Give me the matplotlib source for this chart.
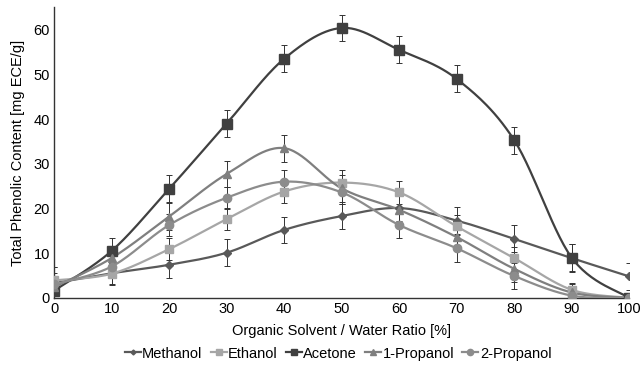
import numpy as np
import matplotlib
matplotlib.use('Agg')
import matplotlib.pyplot as plt
from matplotlib.lines import Line2D

plt.rcParams.update({'font.size': 10.5, 'font.family': 'Liberation Sans'})

ratio = [0, 10, 20, 30, 40, 50, 60, 70, 80, 90, 100]

methanol = [3.3, 5.5, 7.4, 10.1, 15.2, 18.3, 20.1, 17.3, 13.2, 8.9, 4.8]
ethanol = [3.9, 5.4, 10.9, 17.6, 23.8, 25.8, 23.6, 16.0, 8.9, 1.8, 0.0]
acetone = [1.6, 10.5, 24.4, 39.0, 53.5, 60.4, 55.5, 49.0, 35.3, 9.0, 0.0]
propanol1 = [2.4, 8.9, 18.2, 27.7, 33.5, 24.5, 19.7, 13.6, 6.5, 1.2, 0.0]
propanol2 = [3.0, 7.0, 16.3, 22.4, 26.0, 23.6, 16.3, 11.1, 4.9, 0.5, 0.0]

methanol_err = [3.5, 2.5, 3.0, 3.0, 3.0, 2.8, 3.0, 3.0, 3.0, 3.2, 3.0]
ethanol_err = [3.0, 2.5, 2.5, 2.5, 2.5, 2.8, 2.5, 2.5, 2.5, 1.5, 0.5]
acetone_err = [2.0, 2.8, 3.0, 3.0, 3.0, 3.0, 3.0, 3.0, 3.0, 3.0, 0.5]
propanol1_err = [2.5, 2.5, 3.0, 3.0, 3.0, 3.0, 3.0, 3.0, 3.0, 2.0, 0.5]
propanol2_err = [2.5, 2.5, 2.5, 2.5, 2.5, 2.5, 3.0, 3.0, 3.0, 1.5, 0.5]

names = ['Methanol', 'Ethanol', 'Acetone', '1-Propanol', '2-Propanol']
colors = ['#595959', '#a6a6a6', '#404040', '#7f7f7f', '#8c8c8c']
markers = ['D', 's', 's', '^', 'o']
msizes = [4, 6, 6.5, 6, 6]


def smooth(x, y, n=30):
    # excel-like smoothed line (catmull-rom bezier)
    x = np.asarray(x, float)
    y = np.asarray(y, float)
    px = np.concatenate([[x[0]], x, [x[-1]]])
    py = np.concatenate([[y[0]], y, [y[-1]]])
    xs, ys = [], []
    t = np.linspace(0, 1, n)
    for i in range(1, len(px) - 2):
        p0 = np.array([px[i], py[i]])
        p3 = np.array([px[i + 1], py[i + 1]])
        p1 = p0 + (np.array([px[i + 1], py[i + 1]]) - np.array([px[i - 1], py[i - 1]])) / 6
        p2 = p3 - (np.array([px[i + 2], py[i + 2]]) - np.array([px[i], py[i]])) / 6
        b = ((1 - t) ** 3)[:, None] * p0 + (3 * (1 - t) ** 2 * t)[:, None] * p1 \
            + (3 * (1 - t) * t ** 2)[:, None] * p2 + (t ** 3)[:, None] * p3
        xs.extend(b[:, 0])
        ys.extend(b[:, 1])
    return xs, ys


fig = plt.figure(figsize=(6.44, 3.70), dpi=100)
ax = fig.add_axes([0.084, 0.195, 0.893, 0.785])

series = [methanol, ethanol, acetone, propanol1, propanol2]
errs = [methanol_err, ethanol_err, acetone_err, propanol1_err, propanol2_err]
handles = []
for s, e, c, m, ms, name in zip(series, errs, colors, markers, msizes, names):
    ax.errorbar(ratio, s, yerr=e, fmt='none', ecolor='#333333', elinewidth=0.7,
                capsize=2.5, capthick=0.7, zorder=2)
    sx, sy = smooth(ratio, s)
    ax.plot(sx, sy, color=c, linewidth=1.6, zorder=3)
    ax.plot(ratio, s, linestyle='none', marker=m, markersize=ms, color=c, zorder=4)
    handles.append(Line2D([0], [0], color=c, linewidth=1.6, marker=m, markersize=ms - 1.5, label=name))

ax.set_xlim(0, 100)
ax.set_ylim(0, 65)
ax.set_xticks(ratio)
ax.set_yticks([0, 10, 20, 30, 40, 50, 60])
ax.tick_params(length=0, pad=3)
for sp in ['top', 'right']:
    ax.spines[sp].set_visible(False)
ax.spines['left'].set_color('#333333')
ax.spines['bottom'].set_color('#333333')
ax.spines['left'].set_linewidth(1.0)
ax.spines['bottom'].set_linewidth(1.0)

ax.set_xlabel('Organic Solvent / Water Ratio [%]', labelpad=6)
ax.set_ylabel('Total Phenolic Content [mg ECE/g]', labelpad=6)

fig.legend(handles=handles, loc='lower center', ncol=5, frameon=False,
           bbox_to_anchor=(0.525, -0.01), handlelength=1.1, handletextpad=0.1,
           columnspacing=0.55)

fig.savefig('out.png', dpi=100)
